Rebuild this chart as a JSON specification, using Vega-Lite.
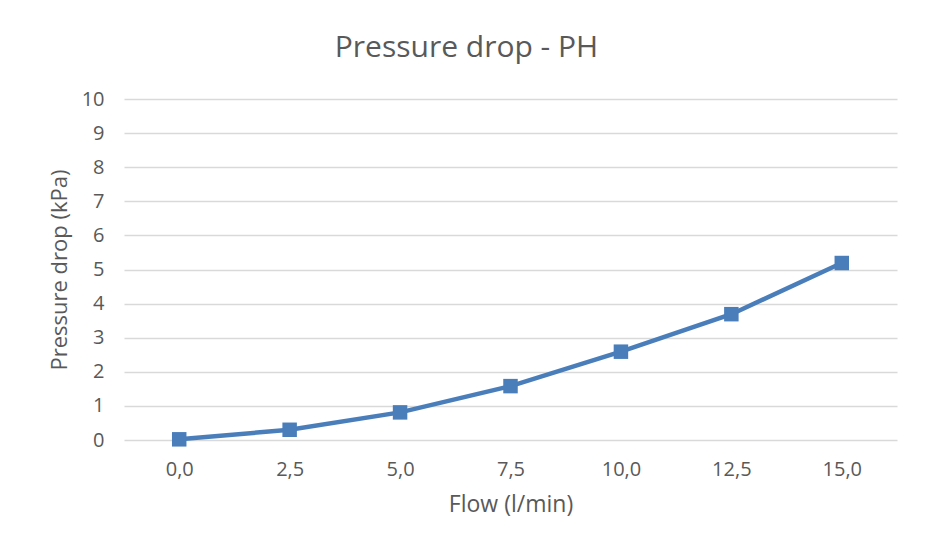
{
  "$schema": "https://vega.github.io/schema/vega-lite/v6.json",
  "width": 773,
  "height": 341,
  "autosize": {"type": "none"},
  "padding": {"left": 124, "top": 99, "right": 33, "bottom": 111},
  "background": "white",
  "title": {
    "text": "Pressure drop - PH",
    "fontSize": 30,
    "font": "Open Sans",
    "fontWeight": "normal",
    "color": "#595959",
    "anchor": "middle",
    "dx": -44,
    "offset": 26
  },
  "config": {
    "view": {"stroke": null},
    "font": "Open Sans"
  },
  "data": {
    "values": [
      {"flow": "0,0", "dp": 0.02},
      {"flow": "2,5", "dp": 0.3},
      {"flow": "5,0", "dp": 0.81},
      {"flow": "7,5", "dp": 1.58},
      {"flow": "10,0", "dp": 2.59},
      {"flow": "12,5", "dp": 3.69},
      {"flow": "15,0", "dp": 5.19}
    ]
  },
  "encoding": {
    "x": {
      "field": "flow",
      "type": "ordinal",
      "sort": null,
      "scale": {"type": "point", "padding": 0.5},
      "axis": {
        "title": "Flow (l/min)",
        "titleFontSize": 23,
        "titleFontWeight": "normal",
        "titleColor": "#595959",
        "titlePadding": 14,
        "labelFontSize": 20,
        "labelColor": "#595959",
        "labelAngle": 0,
        "labelPadding": 19,
        "ticks": false,
        "domain": false,
        "grid": false
      }
    },
    "y": {
      "field": "dp",
      "type": "quantitative",
      "scale": {"domain": [0, 10], "nice": false},
      "axis": {
        "title": "Pressure drop (kPa)",
        "titleFontSize": 22,
        "titleFontWeight": "normal",
        "titleColor": "#595959",
        "titlePadding": 10,
        "values": [0, 1, 2, 3, 4, 5, 6, 7, 8, 9, 10],
        "labelFontSize": 20,
        "labelColor": "#595959",
        "labelPadding": 20,
        "ticks": false,
        "domain": false,
        "gridColor": "#d9d9d9",
        "gridWidth": 1.3
      }
    }
  },
  "layer": [
    {
      "mark": {"type": "line", "color": "#4A7EBB", "strokeWidth": 4.5}
    },
    {
      "mark": {"type": "point", "shape": "square", "filled": true, "color": "#4A7EBB", "size": 210, "opacity": 1}
    }
  ]
}
